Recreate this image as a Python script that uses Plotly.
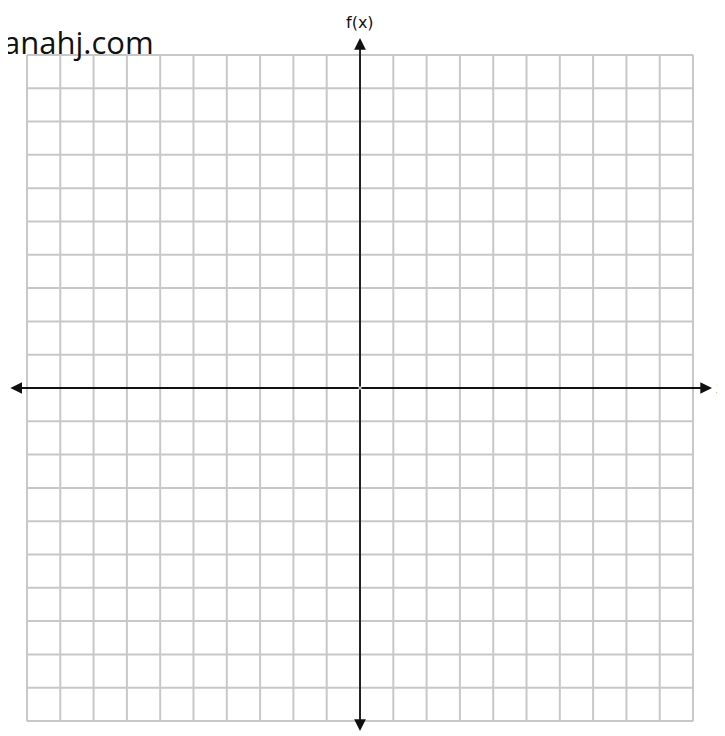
import plotly.graph_objects as go

# grid values (unit squares from -10 to 10)
grid_ticks = list(range(-10, 11))
axis_labels = ["x", "f(x)"]
site_text = "hanahj.com"

# page has an 8px body margin, so the figure is a bit smaller than the window
W, H = 717, 728
x_range = [-10.57, 10.96]
y_range = [-10.45, 11.41]

fig = go.Figure()

# grid lines as one trace with gaps
gx, gy = [], []
for t in grid_ticks:
    gx += [t, t, None]
    gy += [grid_ticks[0], grid_ticks[-1], None]
    gx += [grid_ticks[0], grid_ticks[-1], None]
    gy += [t, t, None]
fig.add_trace(go.Scatter(x=gx, y=gy, mode="lines",
                         line=dict(color="#c8c8c8", width=2),
                         hoverinfo="skip", showlegend=False))

# axes with arrows, drawn from origin outward
ends = [(10.57, 0), (-10.5, 0), (0, 10.51), (0, -10.3)]
for ex, ey in ends:
    fig.add_annotation(x=ex, y=ey, ax=0, ay=0, xref="x", yref="y",
                       axref="x", ayref="y", text="", showarrow=True,
                       arrowhead=2, arrowsize=1.3, arrowwidth=1.8,
                       arrowcolor="#111111")

# axis labels
fig.add_annotation(x=10.81, y=0, text=axis_labels[0], showarrow=False,
                   xanchor="center", yanchor="middle",
                   font=dict(size=16, color="#111111", family="DejaVu Sans"))
fig.add_annotation(x=0, y=10.96, text=axis_labels[1], showarrow=False,
                   xanchor="center", yanchor="middle",
                   font=dict(size=16, color="#111111", family="DejaVu Sans"))
fig.add_annotation(x=148 / W, y=1 - 34 / H, xref="paper", yref="paper",
                   text=site_text, showarrow=False,
                   xanchor="right", yanchor="middle",
                   font=dict(size=31, color="#111111", family="Open Sans"))

fig.update_layout(
    width=W, height=H,
    margin=dict(l=0, r=0, t=0, b=0),
    plot_bgcolor="white", paper_bgcolor="white",
    showlegend=False,
)
fig.update_xaxes(range=x_range, visible=False, fixedrange=True)
fig.update_yaxes(range=y_range, visible=False, fixedrange=True)

fig.write_html("out.html")
